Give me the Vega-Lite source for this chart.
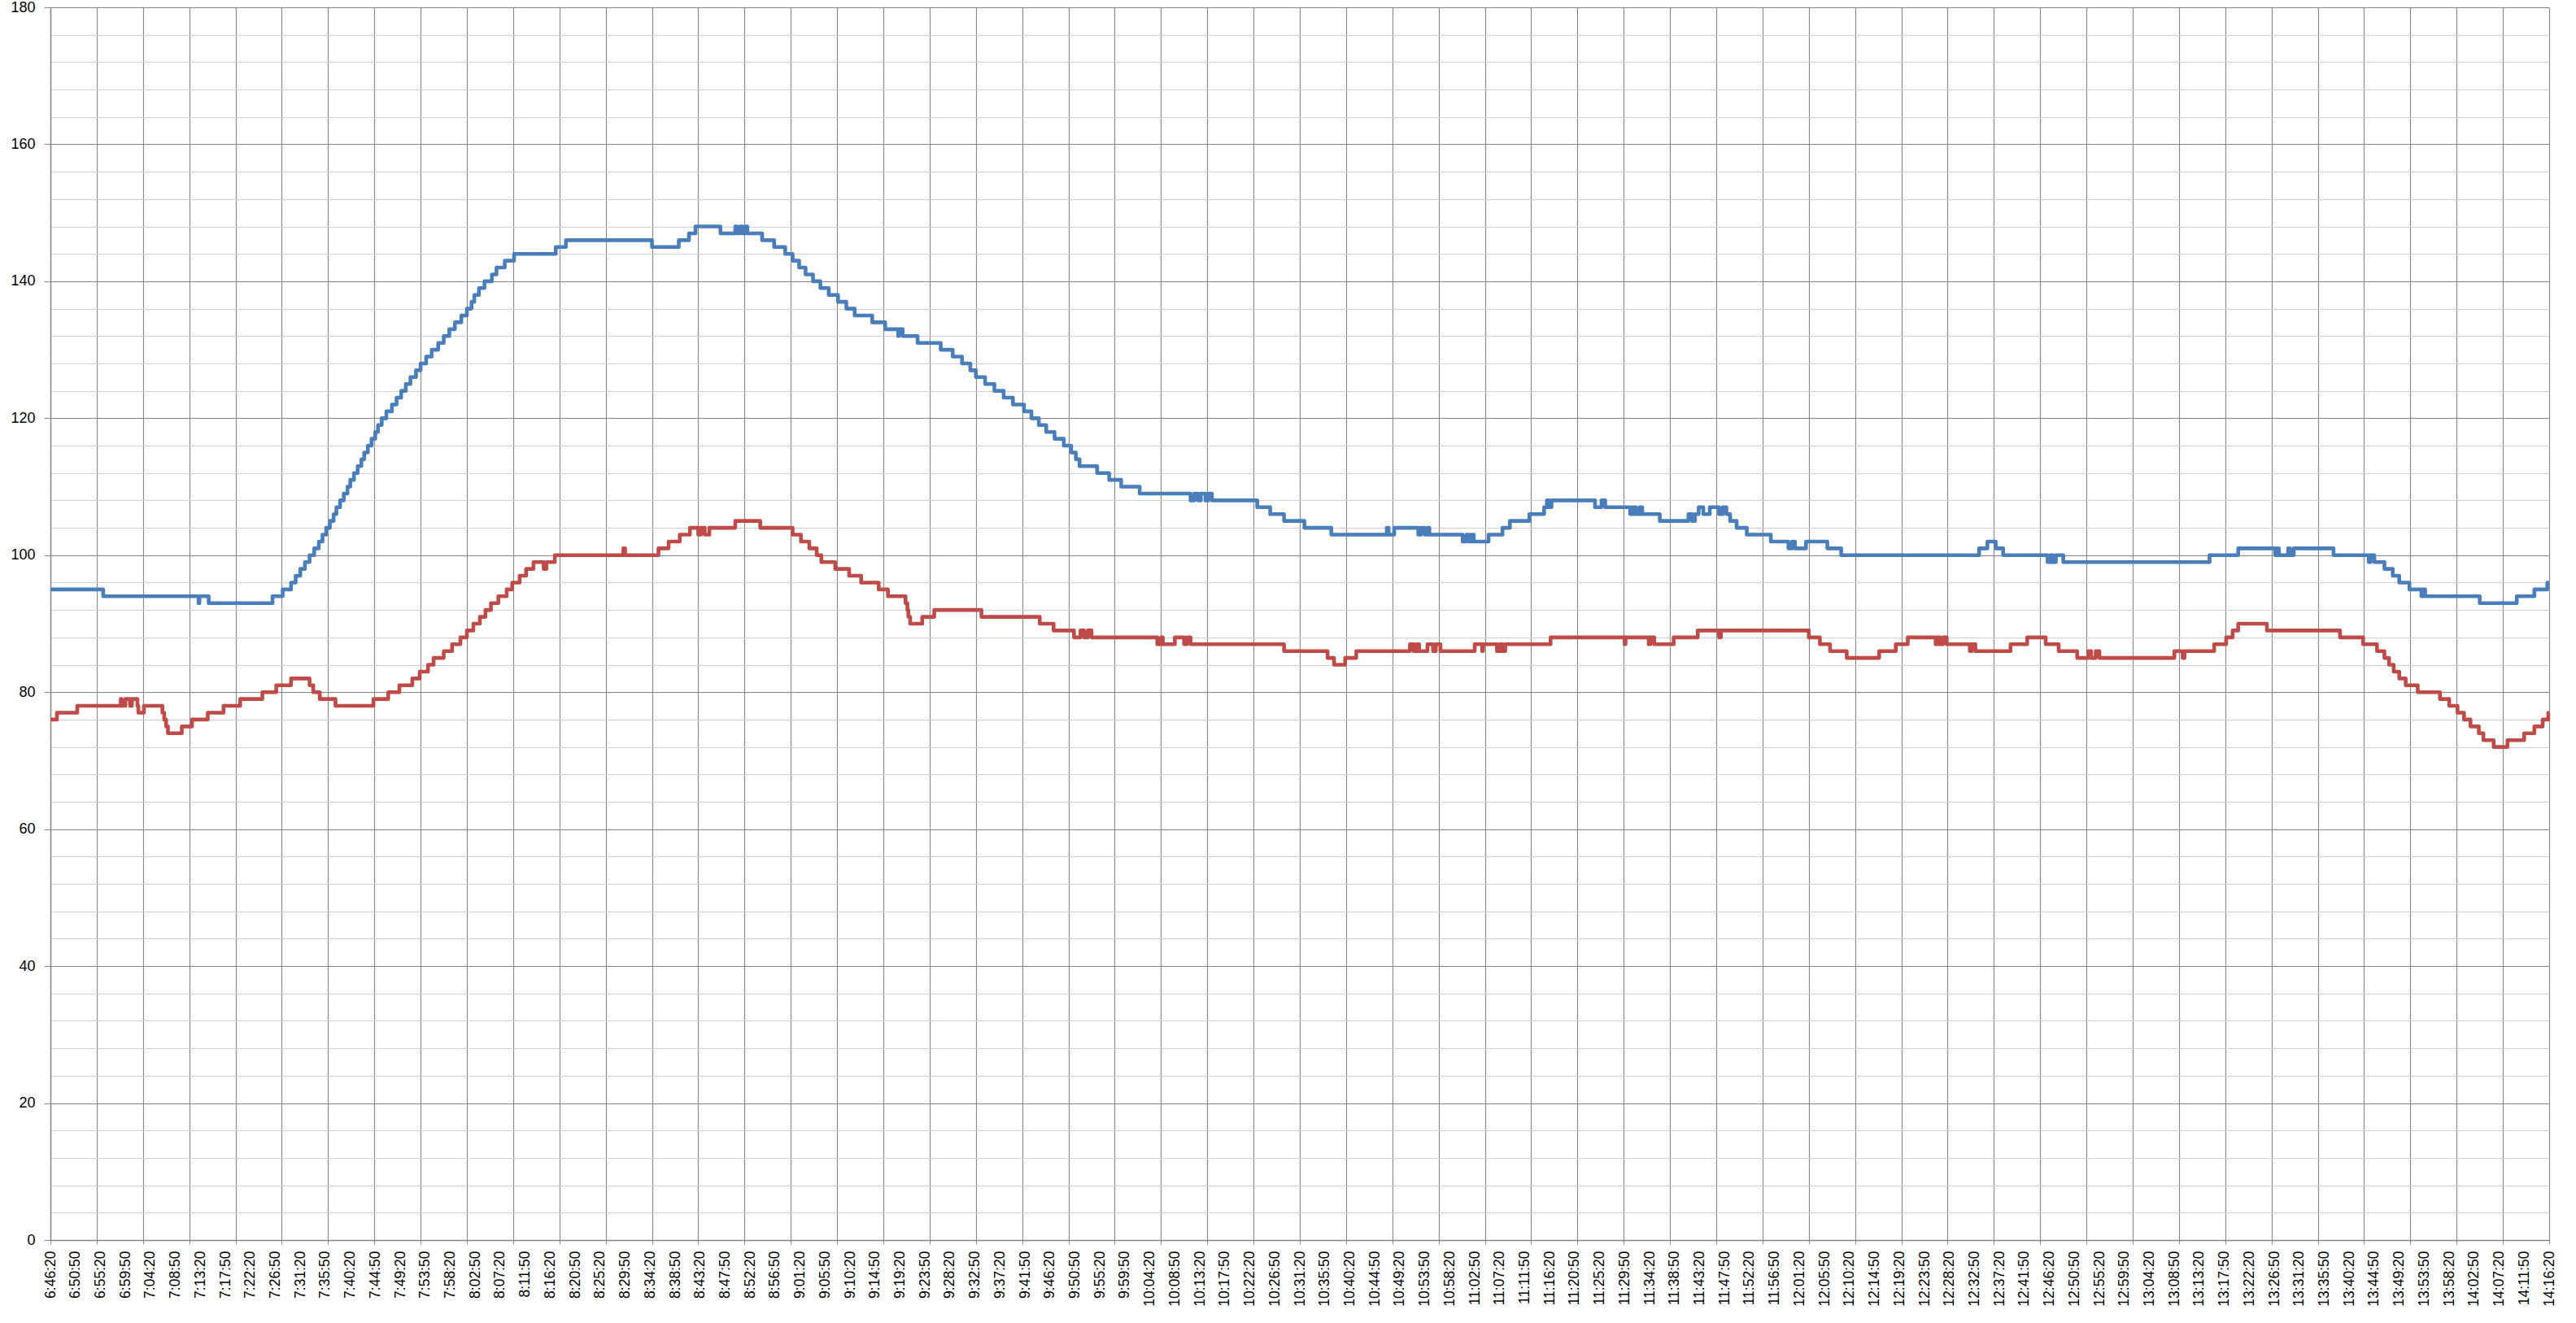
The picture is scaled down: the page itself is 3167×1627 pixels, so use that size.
{
"$schema": "https://vega.github.io/schema/vega-lite/v6.json",
"width": 3072, "height": 1516,
"autosize": {"type": "none"},
"padding": {"left": 62, "top": 9, "right": 33, "bottom": 102},
"background": "#ffffff",
"config": {"view": {"stroke": null}, "axis": {"labelFont": "Liberation Sans", "labelColor": "#000000"}},
"datasets": {
"s1": [{"sample":0,"value":95},{"sample":57,"value":94},{"sample":160,"value":93},{"sample":161,"value":94},{"sample":171,"value":93},{"sample":240,"value":94},{"sample":251,"value":95},{"sample":260,"value":96},{"sample":265,"value":97},{"sample":270,"value":98},{"sample":275,"value":99},{"sample":280,"value":100},{"sample":285,"value":101},{"sample":290,"value":102},{"sample":294,"value":103},{"sample":298,"value":104},{"sample":302,"value":105},{"sample":306,"value":106},{"sample":309,"value":107},{"sample":313,"value":108},{"sample":317,"value":109},{"sample":321,"value":110},{"sample":324,"value":111},{"sample":328,"value":112},{"sample":332,"value":113},{"sample":336,"value":114},{"sample":339,"value":115},{"sample":343,"value":116},{"sample":347,"value":117},{"sample":351,"value":118},{"sample":354,"value":119},{"sample":358,"value":120},{"sample":363,"value":121},{"sample":369,"value":122},{"sample":374,"value":123},{"sample":379,"value":124},{"sample":384,"value":125},{"sample":389,"value":126},{"sample":395,"value":127},{"sample":400,"value":128},{"sample":406,"value":129},{"sample":412,"value":130},{"sample":419,"value":131},{"sample":425,"value":132},{"sample":431,"value":133},{"sample":437,"value":134},{"sample":444,"value":135},{"sample":450,"value":136},{"sample":455,"value":137},{"sample":458,"value":138},{"sample":463,"value":139},{"sample":469,"value":140},{"sample":477,"value":141},{"sample":482,"value":142},{"sample":491,"value":143},{"sample":501,"value":144},{"sample":546,"value":145},{"sample":557,"value":146},{"sample":650,"value":145},{"sample":679,"value":146},{"sample":690,"value":147},{"sample":697,"value":148},{"sample":724,"value":147},{"sample":740,"value":148},{"sample":742,"value":147},{"sample":745,"value":148},{"sample":748,"value":147},{"sample":751,"value":148},{"sample":753,"value":147},{"sample":769,"value":146},{"sample":782,"value":145},{"sample":794,"value":144},{"sample":802,"value":143},{"sample":809,"value":142},{"sample":816,"value":141},{"sample":824,"value":140},{"sample":832,"value":139},{"sample":841,"value":138},{"sample":851,"value":137},{"sample":860,"value":136},{"sample":869,"value":135},{"sample":888,"value":134},{"sample":902,"value":133},{"sample":916,"value":132},{"sample":917,"value":133},{"sample":921,"value":132},{"sample":937,"value":131},{"sample":962,"value":130},{"sample":975,"value":129},{"sample":985,"value":128},{"sample":994,"value":127},{"sample":1000,"value":126},{"sample":1010,"value":125},{"sample":1020,"value":124},{"sample":1030,"value":123},{"sample":1040,"value":122},{"sample":1052,"value":121},{"sample":1060,"value":120},{"sample":1068,"value":119},{"sample":1076,"value":118},{"sample":1085,"value":117},{"sample":1095,"value":116},{"sample":1103,"value":115},{"sample":1108,"value":114},{"sample":1112,"value":113},{"sample":1131,"value":112},{"sample":1144,"value":111},{"sample":1157,"value":110},{"sample":1177,"value":109},{"sample":1232,"value":108},{"sample":1236,"value":109},{"sample":1240,"value":108},{"sample":1243,"value":109},{"sample":1248,"value":108},{"sample":1251,"value":109},{"sample":1255,"value":108},{"sample":1304,"value":107},{"sample":1318,"value":106},{"sample":1333,"value":105},{"sample":1355,"value":104},{"sample":1384,"value":103},{"sample":1444,"value":104},{"sample":1446,"value":103},{"sample":1452,"value":104},{"sample":1478,"value":103},{"sample":1481,"value":104},{"sample":1485,"value":103},{"sample":1488,"value":104},{"sample":1490,"value":103},{"sample":1526,"value":102},{"sample":1530,"value":103},{"sample":1533,"value":102},{"sample":1536,"value":103},{"sample":1538,"value":102},{"sample":1554,"value":103},{"sample":1569,"value":104},{"sample":1577,"value":105},{"sample":1598,"value":106},{"sample":1614,"value":107},{"sample":1617,"value":108},{"sample":1619,"value":107},{"sample":1622,"value":108},{"sample":1669,"value":107},{"sample":1676,"value":108},{"sample":1680,"value":107},{"sample":1707,"value":106},{"sample":1710,"value":107},{"sample":1713,"value":106},{"sample":1717,"value":107},{"sample":1720,"value":106},{"sample":1739,"value":105},{"sample":1770,"value":106},{"sample":1774,"value":105},{"sample":1777,"value":106},{"sample":1781,"value":107},{"sample":1786,"value":106},{"sample":1793,"value":107},{"sample":1803,"value":106},{"sample":1807,"value":107},{"sample":1811,"value":106},{"sample":1815,"value":105},{"sample":1822,"value":104},{"sample":1833,"value":103},{"sample":1859,"value":102},{"sample":1878,"value":101},{"sample":1882,"value":102},{"sample":1885,"value":101},{"sample":1897,"value":102},{"sample":1920,"value":101},{"sample":1935,"value":100},{"sample":2084,"value":101},{"sample":2093,"value":102},{"sample":2102,"value":101},{"sample":2110,"value":100},{"sample":2158,"value":99},{"sample":2161,"value":100},{"sample":2164,"value":99},{"sample":2167,"value":100},{"sample":2175,"value":99},{"sample":2333,"value":100},{"sample":2364,"value":101},{"sample":2404,"value":100},{"sample":2406,"value":101},{"sample":2408,"value":100},{"sample":2418,"value":101},{"sample":2420,"value":100},{"sample":2424,"value":101},{"sample":2467,"value":100},{"sample":2505,"value":99},{"sample":2507,"value":100},{"sample":2511,"value":99},{"sample":2522,"value":98},{"sample":2531,"value":97},{"sample":2538,"value":96},{"sample":2549,"value":95},{"sample":2562,"value":94},{"sample":2564,"value":95},{"sample":2566,"value":94},{"sample":2625,"value":93},{"sample":2665,"value":94},{"sample":2684,"value":95},{"sample":2698,"value":96},{"sample":2700,"value":96}],
"s2": [{"sample":0,"value":76},{"sample":7,"value":77},{"sample":29,"value":78},{"sample":76,"value":79},{"sample":77,"value":78},{"sample":81,"value":79},{"sample":86,"value":78},{"sample":88,"value":79},{"sample":94,"value":78},{"sample":95,"value":77},{"sample":101,"value":78},{"sample":121,"value":77},{"sample":123,"value":76},{"sample":125,"value":75},{"sample":127,"value":74},{"sample":142,"value":75},{"sample":153,"value":76},{"sample":170,"value":77},{"sample":187,"value":78},{"sample":205,"value":79},{"sample":229,"value":80},{"sample":244,"value":81},{"sample":260,"value":82},{"sample":280,"value":81},{"sample":284,"value":80},{"sample":291,"value":79},{"sample":308,"value":78},{"sample":349,"value":79},{"sample":365,"value":80},{"sample":377,"value":81},{"sample":391,"value":82},{"sample":399,"value":83},{"sample":408,"value":84},{"sample":414,"value":85},{"sample":425,"value":86},{"sample":434,"value":87},{"sample":443,"value":88},{"sample":450,"value":89},{"sample":457,"value":90},{"sample":464,"value":91},{"sample":470,"value":92},{"sample":476,"value":93},{"sample":484,"value":94},{"sample":493,"value":95},{"sample":499,"value":96},{"sample":507,"value":97},{"sample":514,"value":98},{"sample":522,"value":99},{"sample":533,"value":98},{"sample":536,"value":99},{"sample":545,"value":100},{"sample":619,"value":101},{"sample":621,"value":100},{"sample":657,"value":101},{"sample":668,"value":102},{"sample":680,"value":103},{"sample":691,"value":104},{"sample":700,"value":103},{"sample":703,"value":104},{"sample":707,"value":103},{"sample":712,"value":104},{"sample":740,"value":105},{"sample":767,"value":104},{"sample":802,"value":103},{"sample":811,"value":102},{"sample":820,"value":101},{"sample":828,"value":100},{"sample":833,"value":99},{"sample":848,"value":98},{"sample":863,"value":97},{"sample":876,"value":96},{"sample":895,"value":95},{"sample":905,"value":94},{"sample":924,"value":93},{"sample":926,"value":92},{"sample":927,"value":91},{"sample":929,"value":90},{"sample":942,"value":91},{"sample":955,"value":92},{"sample":1006,"value":91},{"sample":1069,"value":90},{"sample":1084,"value":89},{"sample":1106,"value":88},{"sample":1113,"value":89},{"sample":1117,"value":88},{"sample":1121,"value":89},{"sample":1125,"value":88},{"sample":1196,"value":87},{"sample":1200,"value":88},{"sample":1202,"value":87},{"sample":1215,"value":88},{"sample":1225,"value":87},{"sample":1228,"value":88},{"sample":1232,"value":87},{"sample":1333,"value":86},{"sample":1380,"value":85},{"sample":1387,"value":84},{"sample":1399,"value":85},{"sample":1411,"value":86},{"sample":1469,"value":87},{"sample":1473,"value":86},{"sample":1476,"value":87},{"sample":1479,"value":86},{"sample":1488,"value":87},{"sample":1494,"value":86},{"sample":1497,"value":87},{"sample":1502,"value":86},{"sample":1539,"value":87},{"sample":1547,"value":86},{"sample":1548,"value":87},{"sample":1563,"value":86},{"sample":1566,"value":87},{"sample":1569,"value":86},{"sample":1572,"value":87},{"sample":1621,"value":88},{"sample":1701,"value":87},{"sample":1702,"value":88},{"sample":1727,"value":87},{"sample":1729,"value":88},{"sample":1733,"value":87},{"sample":1754,"value":88},{"sample":1780,"value":89},{"sample":1803,"value":88},{"sample":1805,"value":89},{"sample":1900,"value":88},{"sample":1912,"value":87},{"sample":1923,"value":86},{"sample":1941,"value":85},{"sample":1976,"value":86},{"sample":1994,"value":87},{"sample":2007,"value":88},{"sample":2037,"value":87},{"sample":2039,"value":88},{"sample":2042,"value":87},{"sample":2045,"value":88},{"sample":2049,"value":87},{"sample":2074,"value":86},{"sample":2076,"value":87},{"sample":2080,"value":86},{"sample":2118,"value":87},{"sample":2136,"value":88},{"sample":2156,"value":87},{"sample":2170,"value":86},{"sample":2190,"value":85},{"sample":2202,"value":86},{"sample":2205,"value":85},{"sample":2210,"value":86},{"sample":2214,"value":85},{"sample":2295,"value":86},{"sample":2304,"value":85},{"sample":2306,"value":86},{"sample":2338,"value":87},{"sample":2351,"value":88},{"sample":2358,"value":89},{"sample":2364,"value":90},{"sample":2395,"value":89},{"sample":2474,"value":88},{"sample":2499,"value":87},{"sample":2514,"value":86},{"sample":2522,"value":85},{"sample":2527,"value":84},{"sample":2532,"value":83},{"sample":2538,"value":82},{"sample":2545,"value":81},{"sample":2558,"value":80},{"sample":2582,"value":79},{"sample":2592,"value":78},{"sample":2601,"value":77},{"sample":2608,"value":76},{"sample":2615,"value":75},{"sample":2624,"value":74},{"sample":2629,"value":73},{"sample":2640,"value":72},{"sample":2655,"value":73},{"sample":2673,"value":74},{"sample":2684,"value":75},{"sample":2693,"value":76},{"sample":2699,"value":77},{"sample":2700,"value":77}]
},
"layer": [
{
"data": {"name": "s1"},
"mark": {"type": "line", "opacity": 0},
"encoding": {
"x": {"field": "sample", "type": "quantitative", "scale": {"domain": [0, 2700], "nice": false, "zero": false},
"axis": {"orient": "bottom", "title": null, "labels": false, "domain": false, "grid": true, "gridColor": "#8a8a8a", "gridWidth": 1.2, "ticks": true, "tickSize": 5, "tickColor": "#8a8a8a",
"values": [0,50,100,150,200,250,300,350,400,450,500,550,600,650,700,750,800,850,900,950,1000,1050,1100,1150,1200,1250,1300,1350,1400,1450,1500,1550,1600,1650,1700,1750,1800,1850,1900,1950,2000,2050,2100,2150,2200,2250,2300,2350,2400,2450,2500,2550,2600,2650,2700]}},
"y": {"field": "value", "type": "quantitative", "scale": {"domain": [0, 180], "nice": false},
"axis": {"orient": "left", "title": null, "labels": false, "domain": false, "ticks": false, "grid": true, "gridColor": "#cfcfcf", "gridWidth": 1.2,
"values": [0,4,8,12,16,20,24,28,32,36,40,44,48,52,56,60,64,68,72,76,80,84,88,92,96,100,104,108,112,116,120,124,128,132,136,140,144,148,152,156,160,164,168,172,176,180]}}
}
},
{
"data": {"name": "s1"},
"mark": {"type": "line", "interpolate": "step-after", "strokeWidth": 4.6, "strokeJoin": "round", "color": "#4A7EBB"},
"encoding": {
"x": {"field": "sample", "type": "quantitative", "scale": {"domain": [0, 2700], "nice": false, "zero": false},
"axis": {"orient": "bottom", "title": null, "grid": false, "ticks": false, "domain": true, "domainColor": "#868686", "domainWidth": 1.4,
"labelAngle": 270, "labelFontSize": 17.5, "labelPadding": 13, "labelFlush": false, "labelOverlap": false, "labelBound": false,
"labelExpr": "floor((24380+10*datum.value)/3600) + ':' + slice('0' + floor(((24380+10*datum.value)%3600)/60), -2) + ':' + slice('0' + ((24380+10*datum.value)%60), -2)",
"values": [0,27,54,81,108,135,162,189,216,243,270,297,324,351,378,405,432,459,486,513,540,567,594,621,648,675,702,729,756,783,810,837,864,891,918,945,972,999,1026,1053,1080,1107,1134,1161,1188,1215,1242,1269,1296,1323,1350,1377,1404,1431,1458,1485,1512,1539,1566,1593,1620,1647,1674,1701,1728,1755,1782,1809,1836,1863,1890,1917,1944,1971,1998,2025,2052,2079,2106,2133,2160,2187,2214,2241,2268,2295,2322,2349,2376,2403,2430,2457,2484,2511,2538,2565,2592,2619,2646,2673,2700]}},
"y": {"field": "value", "type": "quantitative", "scale": {"domain": [0, 180], "nice": false},
"axis": {"orient": "left", "title": null, "grid": true, "gridColor": "#868686", "gridWidth": 1.2, "ticks": true, "tickSize": 8, "tickColor": "#868686",
"domain": true, "domainColor": "#868686", "domainWidth": 1.4, "labelFontSize": 18, "labelPadding": 11, "labelFlush": false,
"values": [0,20,40,60,80,100,120,140,160,180]}}
}
},
{
"data": {"name": "s2"},
"mark": {"type": "line", "interpolate": "step-after", "strokeWidth": 4.6, "strokeJoin": "round", "color": "#BE4B48"},
"encoding": {
"x": {"field": "sample", "type": "quantitative", "scale": {"domain": [0, 2700], "nice": false, "zero": false}, "axis": null},
"y": {"field": "value", "type": "quantitative", "scale": {"domain": [0, 180], "nice": false}, "axis": null}
}
}
],
"resolve": {"axis": {"x": "independent", "y": "independent"}}
}
